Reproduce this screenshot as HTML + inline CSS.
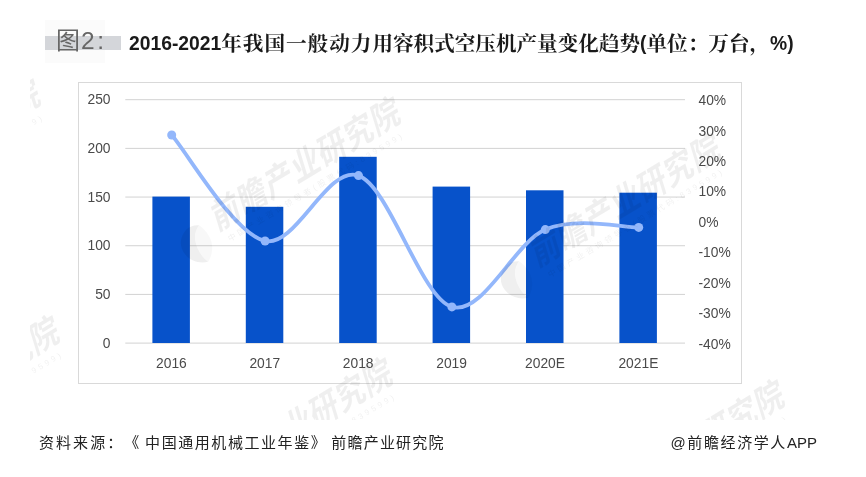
<!DOCTYPE html>
<html lang="zh-CN">
<head>
<meta charset="utf-8">
<title>图2：2016-2021年我国一般动力用容积式空压机产量变化趋势</title>
<style>
html,body{margin:0;padding:0;background:#fff;}
body{width:866px;height:477px;position:relative;overflow:hidden;font-family:"Liberation Sans","Noto Sans CJK SC",sans-serif;}
#wrap{position:absolute;left:0;top:0;width:866px;height:477px;overflow:hidden;background:#fff;}
.band{position:absolute;left:45px;top:36px;width:76px;height:14px;background:#d4d6da;}
.halo{position:absolute;left:45px;top:20px;width:60px;height:43px;background:#fbfbfb;}
.fig{position:absolute;left:56px;top:25.5px;font-size:24px;line-height:30px;color:#666;white-space:nowrap;font-family:"Liberation Sans","Noto Sans CJK SC",sans-serif;}
.title{position:absolute;left:129px;top:29.5px;font-size:20.6px;line-height:28px;font-weight:bold;color:#1a1a1a;white-space:nowrap;text-spacing-trim:space-all;font-family:"Liberation Sans","Noto Serif CJK SC",serif;}
.chart{position:absolute;left:78px;top:82px;width:664px;height:302px;border:1px solid #d9d9d9;box-sizing:border-box;}
svg{position:absolute;left:0;top:0;}
svg text{font-family:"Liberation Sans","Noto Sans CJK SC",sans-serif;font-size:13.8px;fill:#4a4a4a;}
.src{position:absolute;left:39px;top:432.8px;font-size:15px;line-height:20px;color:#222;letter-spacing:2.05px;text-spacing-trim:space-all;white-space:nowrap;}
.app{position:absolute;right:49px;top:433px;font-size:15px;line-height:20px;color:#222;letter-spacing:1.6px;white-space:nowrap;}
.wmclip{position:absolute;left:30px;top:0;width:836px;height:420px;overflow:hidden;pointer-events:none;}
.wm{position:absolute;width:300px;height:60px;transform:rotate(-31deg);transform-origin:158.5px 20px;color:#000;opacity:0.058;white-space:nowrap;font-family:"Liberation Sans","Noto Sans CJK SC",sans-serif;}
.wm b{position:absolute;left:50px;top:-2px;font-size:30px;line-height:40px;letter-spacing:1px;font-weight:bold;transform:skewX(-14deg) scaleY(1.15);transform-origin:108px 20px;}
.wm i{position:absolute;left:53px;top:37px;font-size:8px;line-height:12px;letter-spacing:3px;font-style:normal;}
.wm svg{position:absolute;left:5px;top:10px;}
.title .l{font-size:19.3px;position:relative;top:-1px;}
.title .w{letter-spacing:1px;}
.fig .n{font-size:24.5px;letter-spacing:2.5px;margin-left:1px;}
.src .bk{letter-spacing:1.56px;margin-left:3.8px;}
.src .org{letter-spacing:1.2px;margin-left:4px;}
.app .en{letter-spacing:0;}
</style>
</head>
<body>
<div id="wrap">
  <div class="halo"></div>
  <div class="band"></div>
  <div class="fig">图<span class="n">2:</span></div>
  <div class="title"><span class="l">2016-2021</span><span class="w">年我国一般动力</span>用容积式空压机产量变化趋势<span class="l">(</span>单位：万台，<span class="l">%)</span></div>

  <div class="chart"></div>

  <svg width="866" height="477" viewBox="0 0 866 477">
    <g stroke="#d2d2d2" stroke-width="1">
      <line x1="125.3" x2="685" y1="99.70" y2="99.70"/>
      <line x1="125.3" x2="685" y1="148.38" y2="148.38"/>
      <line x1="125.3" x2="685" y1="197.06" y2="197.06"/>
      <line x1="125.3" x2="685" y1="245.74" y2="245.74"/>
      <line x1="125.3" x2="685" y1="294.42" y2="294.42"/>
      <line x1="125.3" x2="685" y1="343.10" y2="343.10"/>
    </g>
    <g fill="#0752ca">
      <rect x="152.4" y="196.6" width="37.5" height="146.4"/>
      <rect x="245.8" y="206.8" width="37.5" height="136.2"/>
      <rect x="339.2" y="156.8" width="37.5" height="186.2"/>
      <rect x="432.6" y="186.6" width="37.5" height="156.4"/>
      <rect x="526.0" y="190.3" width="37.5" height="152.7"/>
      <rect x="619.4" y="192.7" width="37.5" height="150.3"/>
    </g>
    <g>
      <path d="M171.7,135.0 C187.3,152.7 234.0,234.2 265.1,241.0 C296.2,247.8 327.4,164.6 358.5,175.6 C389.6,186.6 420.8,297.9 451.9,306.9 C483.0,315.9 514.2,242.8 545.3,229.6 C576.4,216.3 623.1,227.8 638.7,227.4" fill="none" stroke="#93b7fb" stroke-width="3.8" stroke-linecap="round" stroke-linejoin="round"/>
      <g fill="#93b7fb">
        <circle cx="171.7" cy="135.0" r="4.5"/>
        <circle cx="265.1" cy="241.0" r="4.5"/>
        <circle cx="358.5" cy="175.6" r="4.5"/>
        <circle cx="451.9" cy="306.9" r="4.5"/>
        <circle cx="545.3" cy="229.6" r="4.5"/>
        <circle cx="638.7" cy="227.4" r="4.5"/>
      </g>
    </g>
    <g text-anchor="end">
      <text x="110.5" y="104.2">250</text>
      <text x="110.5" y="152.9">200</text>
      <text x="110.5" y="201.6">150</text>
      <text x="110.5" y="250.2">100</text>
      <text x="110.5" y="298.9">50</text>
      <text x="110.5" y="347.6">0</text>
    </g>
    <g text-anchor="start" style="font-size:13.5px">
      <text x="698.5" y="105.1">40%</text>
      <text x="698.5" y="135.5">30%</text>
      <text x="698.5" y="165.9">20%</text>
      <text x="698.5" y="196.4">10%</text>
      <text x="698.5" y="226.8">0%</text>
      <text x="698.5" y="257.2">-10%</text>
      <text x="698.5" y="287.6">-20%</text>
      <text x="698.5" y="318.1">-30%</text>
      <text x="698.5" y="348.5">-40%</text>
    </g>
    <g text-anchor="middle">
      <text x="171.4" y="367.7">2016</text>
      <text x="264.8" y="367.7">2017</text>
      <text x="358.2" y="367.7">2018</text>
      <text x="451.6" y="367.7">2019</text>
      <text x="545.0" y="367.7">2020E</text>
      <text x="638.4" y="367.7">2021E</text>
    </g>
  </svg>

  <div class="wmclip">
    <div class="wm" style="left:118.8px;top:145.9px"><svg width="34" height="42" viewBox="0 0 34 42"><path d="M17 2 C7 5 2 13 3 22 C4 31 10 38 19 41 C16 33 16 24 19 16 C21 11 25 7 30 5 C26 2 21 1 17 2 Z" fill="#000"/><path d="M30 5 C25 7 21 11 19 16 C16 24 16 33 19 41 C27 37 33 29 33 19 C33 14 32 9 30 5 Z" fill="#000" opacity="0.45"/></svg><b>前瞻产业研究院</b><i>中国产业咨询领导者(股票代码:839599)</i></div>
    <div class="wm" style="left:438.8px;top:181.9px"><svg width="34" height="42" viewBox="0 0 34 42"><path d="M17 2 C7 5 2 13 3 22 C4 31 10 38 19 41 C16 33 16 24 19 16 C21 11 25 7 30 5 C26 2 21 1 17 2 Z" fill="#000"/><path d="M30 5 C25 7 21 11 19 16 C16 24 16 33 19 41 C27 37 33 29 33 19 C33 14 32 9 30 5 Z" fill="#000" opacity="0.45"/></svg><b>前瞻产业研究院</b><i>中国产业咨询领导者(股票代码:839599)</i></div>
    <div class="wm" style="left:110.8px;top:406.9px"><svg width="34" height="42" viewBox="0 0 34 42"><path d="M17 2 C7 5 2 13 3 22 C4 31 10 38 19 41 C16 33 16 24 19 16 C21 11 25 7 30 5 C26 2 21 1 17 2 Z" fill="#000"/><path d="M30 5 C25 7 21 11 19 16 C16 24 16 33 19 41 C27 37 33 29 33 19 C33 14 32 9 30 5 Z" fill="#000" opacity="0.45"/></svg><b>前瞻产业研究院</b><i>中国产业咨询领导者(股票代码:839599)</i></div>
    <div class="wm" style="left:502.8px;top:429.4px"><svg width="34" height="42" viewBox="0 0 34 42"><path d="M17 2 C7 5 2 13 3 22 C4 31 10 38 19 41 C16 33 16 24 19 16 C21 11 25 7 30 5 C26 2 21 1 17 2 Z" fill="#000"/><path d="M30 5 C25 7 21 11 19 16 C16 24 16 33 19 41 C27 37 33 29 33 19 C33 14 32 9 30 5 Z" fill="#000" opacity="0.45"/></svg><b>前瞻产业研究院</b><i>中国产业咨询领导者(股票代码:839599)</i></div>
    <div class="wm" style="left:-222.2px;top:364.9px"><svg width="34" height="42" viewBox="0 0 34 42"><path d="M17 2 C7 5 2 13 3 22 C4 31 10 38 19 41 C16 33 16 24 19 16 C21 11 25 7 30 5 C26 2 21 1 17 2 Z" fill="#000"/><path d="M30 5 C25 7 21 11 19 16 C16 24 16 33 19 41 C27 37 33 29 33 19 C33 14 32 9 30 5 Z" fill="#000" opacity="0.45"/></svg><b>前瞻产业研究院</b><i>中国产业咨询领导者(股票代码:839599)</i></div>
    <div class="wm" style="left:-241.2px;top:127.9px"><svg width="34" height="42" viewBox="0 0 34 42"><path d="M17 2 C7 5 2 13 3 22 C4 31 10 38 19 41 C16 33 16 24 19 16 C21 11 25 7 30 5 C26 2 21 1 17 2 Z" fill="#000"/><path d="M30 5 C25 7 21 11 19 16 C16 24 16 33 19 41 C27 37 33 29 33 19 C33 14 32 9 30 5 Z" fill="#000" opacity="0.45"/></svg><b>前瞻产业研究院</b><i>中国产业咨询领导者(股票代码:839599)</i></div>
  </div>
  <div class="src">资料来源：《<span class="bk">中国通用机械工业年鉴》</span><span class="org">前瞻产业研究院</span></div>
  <div class="app">@前瞻经济学人<span class="en">APP</span></div>
</div>
</body>
</html>
